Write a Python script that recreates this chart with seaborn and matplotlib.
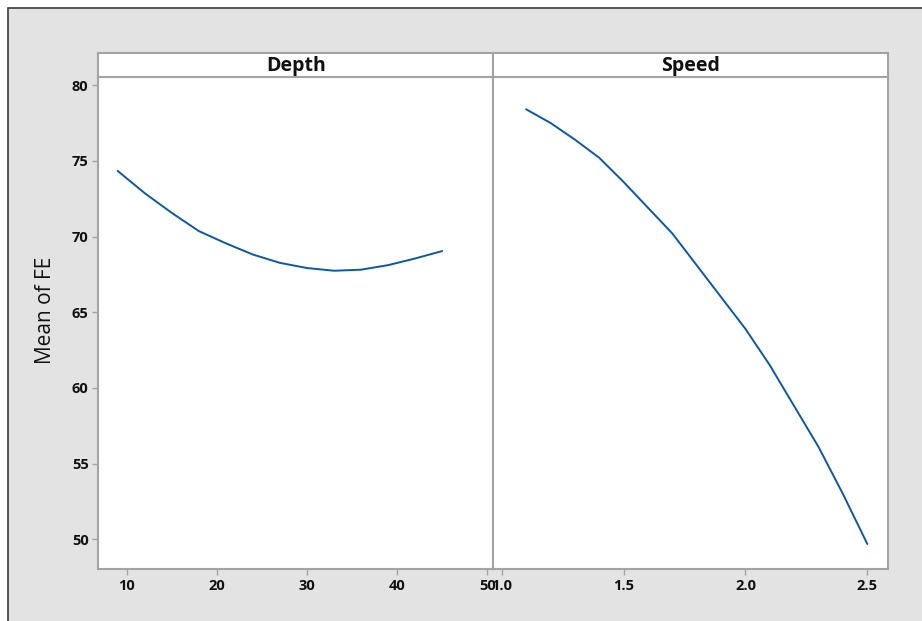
import matplotlib
matplotlib.use("Agg")
import matplotlib.pyplot as plt
from matplotlib.patches import Rectangle
import numpy as np
import pandas as pd
import seaborn as sns

# Main effects for FE
depth = [9, 12, 15, 18, 21, 24, 27, 30, 33, 36, 39, 42, 45]
depth_fe = [74.33, 72.86, 71.56, 70.36, 69.55, 68.81, 68.26, 67.92, 67.74,
            67.81, 68.11, 68.55, 69.04]

speed = [1.1, 1.2, 1.3, 1.4, 1.5, 1.6, 1.7, 1.8, 1.9, 2.0, 2.1, 2.2, 2.3, 2.4, 2.5]
speed_fe = [78.4, 77.5, 76.4, 75.2, 73.6, 71.9, 70.2, 68.1, 66.0, 63.9, 61.5,
            58.8, 56.1, 53.0, 49.7]

depth_ticks = [10, 20, 30, 40, 50]
speed_ticks = [1.0, 1.5, 2.0, 2.5]
speed_ticklabels = ["1.0", "1.5", "2.0", "2.5"]
y_ticks = [50, 55, 60, 65, 70, 75, 80]

df = pd.concat([
    pd.DataFrame({"factor": "Depth", "level": depth, "FE": depth_fe}),
    pd.DataFrame({"factor": "Speed", "level": speed, "FE": speed_fe}),
])

sns.set_theme(style="white")
plt.rcParams["font.family"] = ["Open Sans", "DejaVu Sans"]

W, H = 922, 621
fig = plt.figure(figsize=(W / 100, H / 100), dpi=100, facecolor="white")

# grey window background with a dark frame, kept behind the panels
frame = Rectangle((8 / W, -0.1), 1.2, 1 - 8 / H + 0.1,
                  transform=fig.transFigure, facecolor="#e3e3e3",
                  edgecolor="#3a3a3a", linewidth=1.2, zorder=-10)
fig.add_artist(frame)

def fx(px):
    return px / W

def fy(py):
    return 1 - py / H

left, mid, right = 98.3, 493.3, 888.3
top, bottom, strip_top = 76.7, 569.3, 53.3

spine_col = "#a3a3a3"
line_col = "#0a58a8"
text_col = "#111111"

panels = [
    ("Depth", left, mid, (6.85, 50.67), depth_ticks, [str(t) for t in depth_ticks]),
    ("Speed", mid, right, (0.9655, 2.586), speed_ticks, speed_ticklabels),
]

for i, (name, x0, x1, xlim, ticks, ticklabels) in enumerate(panels):
    ax = fig.add_axes([fx(x0), fy(bottom), fx(x1 - x0), fy(top) - fy(bottom)])
    sub = df[df["factor"] == name]
    sns.lineplot(data=sub, x="level", y="FE", ax=ax, color=line_col,
                 linewidth=1.4, legend=False)
    ax.set_xlim(*xlim)
    ax.set_ylim(48.03, 80.55)
    ax.set_xticks(ticks)
    ax.set_xticklabels(ticklabels)
    ax.set_xlabel("")
    ax.set_facecolor("white")
    for s in ax.spines.values():
        s.set_color(spine_col)
        s.set_linewidth(1.5)
    ax.tick_params(axis="x", direction="out", length=4, width=1, color=spine_col,
                   labelsize=10.5, labelcolor=text_col, pad=3, bottom=True)
    if i == 0:
        ax.set_yticks(y_ticks)
        ax.tick_params(axis="y", direction="out", length=4, width=1, color=spine_col,
                       labelsize=10.5, labelcolor=text_col, pad=3, left=True)
        ax.set_ylabel("Mean of FE", fontsize=15, color=text_col)
        ax.yaxis.label.set_va("center")
        ax.yaxis.set_label_coords((45 - x0) / (x1 - x0), (bottom - 310) / (bottom - top))
    else:
        ax.set_yticks([])
        ax.set_ylabel("")
    for lab in ax.get_xticklabels() + ax.get_yticklabels():
        lab.set_fontweight("bold")

    # facet strip
    sax = fig.add_axes([fx(x0), fy(top), fx(x1 - x0), fy(strip_top) - fy(top)])
    sax.set_facecolor("white")
    sax.set_xticks([])
    sax.set_yticks([])
    for s in sax.spines.values():
        s.set_color(spine_col)
        s.set_linewidth(1.5)
    sax.text(0.5, 0.45, name, transform=sax.transAxes, ha="center", va="center",
             fontsize=14, fontweight="bold", color=text_col)

fig.savefig("out.png", dpi=100, facecolor=fig.get_facecolor())
